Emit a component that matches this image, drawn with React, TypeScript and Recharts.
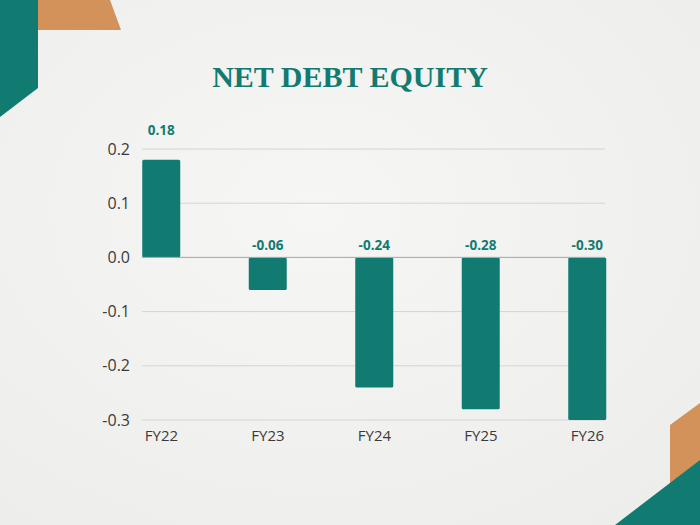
import React from 'react';
import { BarChart, Bar, XAxis, YAxis, CartesianGrid, ReferenceLine, LabelList } from 'recharts';

const categories = ['FY22', 'FY23', 'FY24', 'FY25', 'FY26'];
const netDebtEquity = [0.18, -0.06, -0.24, -0.28, -0.30];
const yTicks = [-0.3, -0.2, -0.1, 0, 0.1, 0.2];

const data = categories.map((c, i) => ({ name: c, value: netDebtEquity[i] }));

const TEAL = '#117b71';
const ORANGE = '#d2925a';

const BarLabel = (props: any) => {
  const { x, y, width, height, value } = props;
  const top = Math.min(y, y + height);
  const baseline = value >= 0 ? top - 25 : top - 7.5;
  return (
    <text
      x={x + width / 2}
      y={baseline}
      textAnchor="middle"
      fill={TEAL}
      fontFamily="'Open Sans', sans-serif"
      fontWeight={700}
      fontSize={13.5}
    >
      {value.toFixed(2)}
    </text>
  );
};

export default function App() {
  return (
    <div style={{ position: 'absolute', left: 0, top: 0, width: 700, height: 525, overflow: 'hidden', background: '#f2f2f1' }}>
      <svg width={700} height={525} style={{ position: 'absolute', left: 0, top: 0 }}>
        <defs>
          <radialGradient id="paper" cx="45%" cy="40%" r="75%">
            <stop offset="0%" stopColor="#f6f6f5" />
            <stop offset="100%" stopColor="#ededec" />
          </radialGradient>
        </defs>
        <rect x={0} y={0} width={700} height={525} fill="url(#paper)" />
        <polygon points="38,0 110,0 121,30 38,30" fill={ORANGE} />
        <polygon points="0,0 38,0 38,88 0,117" fill={TEAL} />
        <polygon points="670,425 700,403 700,525 670,525" fill={ORANGE} />
        <polygon points="615,525 700,460 700,525" fill={TEAL} />
        <text
          x={350}
          y={87}
          textAnchor="middle"
          fill={TEAL}
          fontFamily="'Liberation Serif', serif"
          fontWeight={700}
          fontSize={30}
        >
          NET DEBT EQUITY
        </text>
      </svg>
      <div style={{ position: 'absolute', left: 0, top: 0 }}>
        <BarChart
          width={700}
          height={525}
          data={data}
          margin={{ top: 149, right: 95, bottom: 75, left: 102 }}
        >
          <CartesianGrid vertical={false} stroke="#d4d4d4" strokeWidth={1} />
          <XAxis
            dataKey="name"
            height={30}
            padding={{ left: -33.75, right: -35.75 }}
            axisLine={false}
            tickLine={false}
            tickSize={0}
            tickMargin={10}
            tick={{ fill: '#3a3a3a', fontSize: 15, fontFamily: "'Open Sans', sans-serif" }}
            interval={0}
          />
          <YAxis
            width={40}
            domain={[-0.3, 0.2]}
            ticks={yTicks}
            axisLine={false}
            tickLine={false}
            tickSize={0}
            tickMargin={12}
            tickFormatter={(v: number) => v.toFixed(1)}
            tick={{ fill: '#3a3a3a', fontSize: 16, fontFamily: "'Open Sans', sans-serif" }}
          />
          <ReferenceLine y={0} stroke="#a9a9a9" strokeWidth={1} />
          <Bar dataKey="value" fill={TEAL} barSize={38} radius={1.5} isAnimationActive={false}>
            <LabelList dataKey="value" content={BarLabel} />
          </Bar>
        </BarChart>
      </div>
    </div>
  );
}
